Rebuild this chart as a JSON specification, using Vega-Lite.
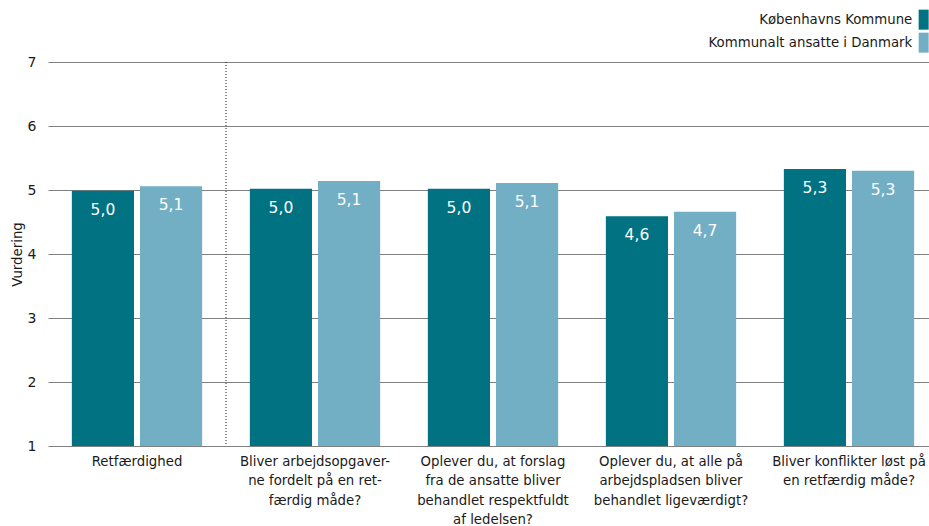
{
  "$schema": "https://vega.github.io/schema/vega-lite/v6.json",
  "width": 890,
  "height": 384,
  "autosize": {"type": "none"},
  "padding": {"left": 48, "top": 62, "right": -9, "bottom": 80},
  "config": {
    "locale": {"number": {"decimal": ",", "thousands": ".", "grouping": [3], "currency": ["", " kr."]}},
    "view": {"stroke": null},
    "font": "DejaVu Sans",
    "legend": {"layout": {"top": {"anchor": "end"}}}
  },
  "data": {
    "values": [
      {"q": "Retfærdighed", "g": "Københavns Kommune", "v": 4.99},
      {"q": "Retfærdighed", "g": "Kommunalt ansatte i Danmark", "v": 5.06},
      {"q": "Bliver arbejdsopgaver-|ne fordelt på en ret-|færdig måde?", "g": "Københavns Kommune", "v": 5.02},
      {"q": "Bliver arbejdsopgaver-|ne fordelt på en ret-|færdig måde?", "g": "Kommunalt ansatte i Danmark", "v": 5.14},
      {"q": "Oplever du, at forslag|fra de ansatte bliver|behandlet respektfuldt|af ledelsen?", "g": "Københavns Kommune", "v": 5.02},
      {"q": "Oplever du, at forslag|fra de ansatte bliver|behandlet respektfuldt|af ledelsen?", "g": "Kommunalt ansatte i Danmark", "v": 5.11},
      {"q": "Oplever du, at alle på|arbejdspladsen bliver|behandlet ligeværdigt?", "g": "Københavns Kommune", "v": 4.59},
      {"q": "Oplever du, at alle på|arbejdspladsen bliver|behandlet ligeværdigt?", "g": "Kommunalt ansatte i Danmark", "v": 4.66},
      {"q": "Bliver konflikter løst på|en retfærdig måde?", "g": "Københavns Kommune", "v": 5.33},
      {"q": "Bliver konflikter løst på|en retfærdig måde?", "g": "Kommunalt ansatte i Danmark", "v": 5.30}
    ]
  },
  "encoding": {
    "x": {
      "field": "q",
      "type": "nominal",
      "sort": null,
      "scale": {"paddingInner": 0, "paddingOuter": 0},
      "axis": {
        "title": null,
        "domain": false,
        "ticks": false,
        "labelAngle": 0,
        "labelPadding": 8,
        "labelFontSize": 13.3,
        "labelLineHeight": 19.6,
        "labelColor": "#1a1a1a",
        "labelLimit": 0,
        "labelExpr": "split(datum.label, '|')"
      }
    }
  },
  "layer": [
    {
      "mark": {"type": "bar"},
      "encoding": {
        "xOffset": {
          "field": "g",
          "type": "nominal",
          "sort": ["Københavns Kommune", "Kommunalt ansatte i Danmark"],
          "scale": {"paddingInner": 0.088, "paddingOuter": 0.35}
        },
        "y": {
          "field": "v",
          "type": "quantitative",
          "scale": {"domain": [1, 7], "nice": false, "zero": false},
          "axis": {
            "title": "Vurdering",
            "titleFontWeight": "normal",
            "titleFontSize": 13.3,
            "titleColor": "#1a1a1a",
            "titlePadding": 3,
            "values": [1, 2, 3, 4, 5, 6, 7],
            "format": "d",
            "domain": false,
            "ticks": false,
            "tickSize": 0,
            "labelPadding": 12,
            "labelFontSize": 14,
            "labelColor": "#1a1a1a",
            "grid": true,
            "gridColor": "#808080",
            "gridWidth": 1
          }
        },
        "y2": {"datum": 1},
        "color": {
          "field": "g",
          "type": "nominal",
          "scale": {
            "domain": ["Københavns Kommune", "Kommunalt ansatte i Danmark"],
            "range": ["#007282", "#72AFC4"]
          },
          "legend": {
            "title": null,
            "orient": "top",
            "direction": "vertical",
            "offset": 0,
            "padding": 9,
            "symbolType": "M-1,-2H1V2H-1Z",
            "symbolSize": 100,
            "symbolStrokeWidth": 0,
            "labelAlign": "right",
            "labelOffset": -18,
            "labelFontSize": 13.3,
            "labelColor": "#1a1a1a",
            "rowPadding": 2,
            "labelLimit": 0
          }
        }
      }
    },
    {
      "mark": {"type": "text", "baseline": "top", "dy": 12, "color": "white", "fontSize": 15.5, "align": "center"},
      "encoding": {
        "xOffset": {
          "field": "g",
          "type": "nominal",
          "sort": ["Københavns Kommune", "Kommunalt ansatte i Danmark"]
        },
        "y": {"field": "v", "type": "quantitative"},
        "text": {"field": "v", "type": "quantitative", "format": ".1f"}
      }
    },
    {
      "transform": [
        {"filter": "datum.g == 'Københavns Kommune' && indexof(datum.q, 'Bliver arbejdsopgaver') == 0"}
      ],
      "mark": {"type": "rule", "color": "#222222", "strokeDash": [1, 2], "strokeWidth": 1},
      "encoding": {
        "x": {"field": "q", "type": "nominal", "sort": null, "bandPosition": 0},
        "y": {"datum": 7},
        "y2": {"datum": 1}
      }
    }
  ]
}
